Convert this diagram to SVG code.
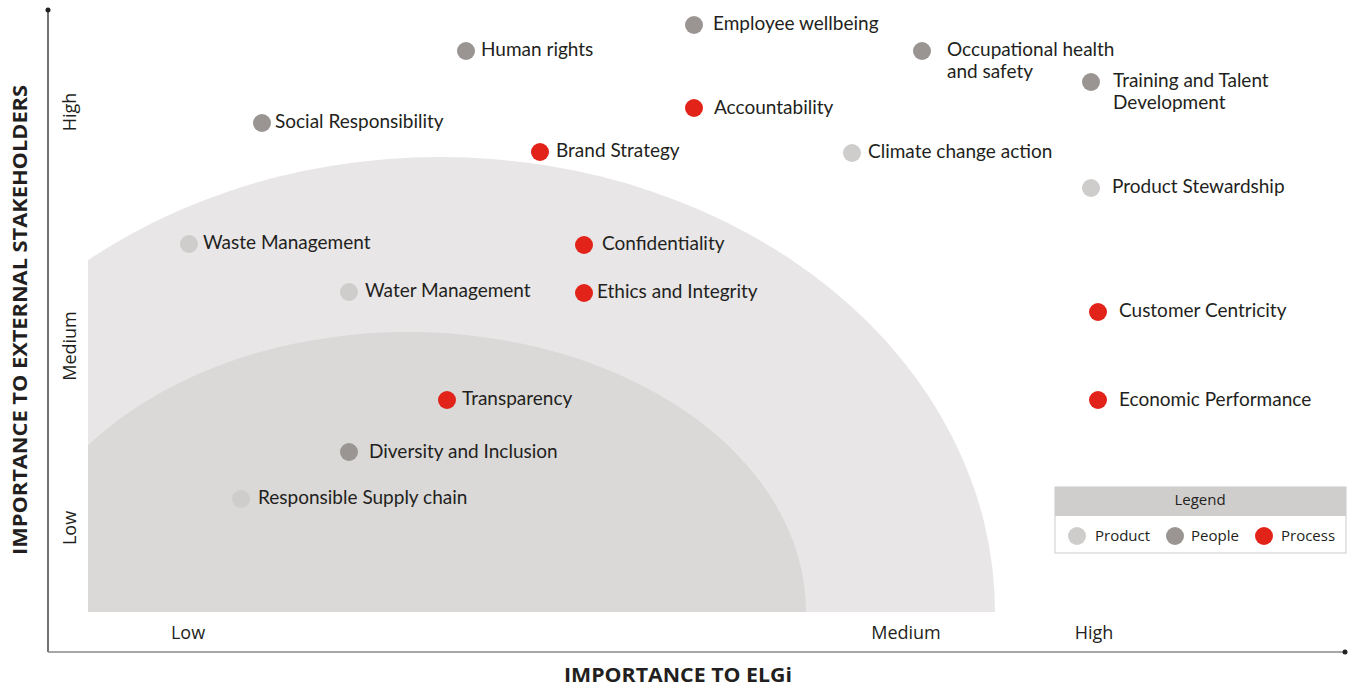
<svg xmlns="http://www.w3.org/2000/svg" width="1352" height="691" viewBox="0 0 1352 691">
<style>
.lbl{font-family:Lato,"Open Sans","Noto Sans",sans-serif;font-size:19px;fill:#231f20}
.ax{font-family:"Open Sans","Noto Sans",sans-serif;font-size:18px;fill:#231f20}
.ttl{font-family:"Open Sans","Noto Sans",sans-serif;font-size:20px;font-weight:bold;fill:#231f20}
.lg{font-family:"Open Sans","Noto Sans",sans-serif;font-size:15px;fill:#231f20}
.pe{fill:#9a9593}.pr{fill:#cfcdcc}.ps{fill:#e2231a}
</style>
<defs>
<clipPath id="area"><rect x="88" y="0" width="1000" height="612"/></clipPath>
</defs>
<g id="zones" clip-path="url(#area)">
<ellipse cx="440" cy="612" rx="555" ry="455" fill="#e8e6e7"/>
<ellipse cx="408" cy="612" rx="398" ry="280" fill="#dad9d8"/>
</g>
<g id="axes">
<line x1="48" y1="10" x2="48" y2="652" stroke="#444" stroke-width="1.5"/>
<line x1="48" y1="652" x2="1345" y2="652" stroke="#888" stroke-width="1.5"/>
<circle cx="48" cy="10" r="2.5" fill="#222"/>
<circle cx="1345" cy="652" r="2.5" fill="#222"/>
<text class="ax" x="188" y="639" text-anchor="middle">Low</text>
<text class="ax" x="906" y="639" text-anchor="middle">Medium</text>
<text class="ax" x="1094" y="639" text-anchor="middle">High</text>
<text class="ax" transform="translate(76,112) rotate(-90)" text-anchor="middle">High</text>
<text class="ax" transform="translate(76,346) rotate(-90)" text-anchor="middle">Medium</text>
<text class="ax" transform="translate(76,528) rotate(-90)" text-anchor="middle">Low</text>
<text class="ttl" x="678" y="682" text-anchor="middle" textLength="228" lengthAdjust="spacingAndGlyphs">IMPORTANCE  TO ELGi</text>
<text class="ttl" transform="translate(27,320) rotate(-90)" text-anchor="middle" textLength="470" lengthAdjust="spacingAndGlyphs">IMPORTANCE  TO EXTERNAL STAKEHOLDERS</text>
</g>
<g id="n-employee"><circle class="pe" cx="694" cy="25" r="9"/><text class="lbl" x="713" y="30">Employee wellbeing</text></g>
<g id="n-human"><circle class="pe" cx="466" cy="51" r="9"/><text class="lbl" x="481" y="56">Human rights</text></g>
<g id="n-ohs"><circle class="pe" cx="922" cy="51" r="9"/><text class="lbl" x="947" y="56">Occupational health</text><text class="lbl" x="947" y="78">and safety</text></g>
<g id="n-training"><circle class="pe" cx="1091" cy="82" r="9"/><text class="lbl" x="1113" y="87">Training and Talent</text><text class="lbl" x="1113" y="109">Development</text></g>
<g id="n-account"><circle class="ps" cx="694" cy="108" r="9"/><text class="lbl" x="714" y="114">Accountability</text></g>
<g id="n-social"><circle class="pe" cx="262" cy="123" r="9"/><text class="lbl" x="275" y="128">Social Responsibility</text></g>
<g id="n-brand"><circle class="ps" cx="540" cy="152" r="9"/><text class="lbl" x="556" y="157">Brand Strategy</text></g>
<g id="n-climate"><circle class="pr" cx="852" cy="153" r="9"/><text class="lbl" x="868" y="158">Climate change action</text></g>
<g id="n-stewardship"><circle class="pr" cx="1091" cy="188" r="9"/><text class="lbl" x="1112" y="193">Product Stewardship</text></g>
<g id="n-waste"><circle class="pr" cx="189" cy="244" r="9"/><text class="lbl" x="203" y="249">Waste Management</text></g>
<g id="n-confid"><circle class="ps" cx="584" cy="245" r="9"/><text class="lbl" x="602" y="250">Confidentiality</text></g>
<g id="n-water"><circle class="pr" cx="349" cy="292" r="9"/><text class="lbl" x="365" y="297">Water Management</text></g>
<g id="n-ethics"><circle class="ps" cx="584" cy="293" r="9"/><text class="lbl" x="597" y="298">Ethics and Integrity</text></g>
<g id="n-customer"><circle class="ps" cx="1098" cy="312" r="9"/><text class="lbl" x="1119" y="317">Customer Centricity</text></g>
<g id="n-transp"><circle class="ps" cx="447" cy="400" r="9"/><text class="lbl" x="462" y="405">Transparency</text></g>
<g id="n-economic"><circle class="ps" cx="1098" cy="400" r="9"/><text class="lbl" x="1119" y="406">Economic Performance</text></g>
<g id="n-diversity"><circle class="pe" cx="349" cy="452" r="9"/><text class="lbl" x="369" y="458">Diversity and Inclusion</text></g>
<g id="n-supply"><circle class="pr" cx="241" cy="499" r="9"/><text class="lbl" x="258" y="504">Responsible Supply chain</text></g>
<g id="legend">
<rect x="1055" y="487" width="291" height="66" fill="#fff" stroke="#cccccc"/>
<rect x="1055" y="487" width="291" height="29" fill="#d0cecd"/>
<text class="lg" x="1200" y="505" text-anchor="middle">Legend</text>
<circle class="pr" cx="1077" cy="536" r="9"/><text class="lg" x="1095" y="541">Product</text>
<circle class="pe" cx="1175" cy="536" r="9"/><text class="lg" x="1191" y="541">People</text>
<circle class="ps" cx="1264" cy="536" r="9"/><text class="lg" x="1281" y="541">Process</text>
</g>
<g id="connectors"/>
</svg>
